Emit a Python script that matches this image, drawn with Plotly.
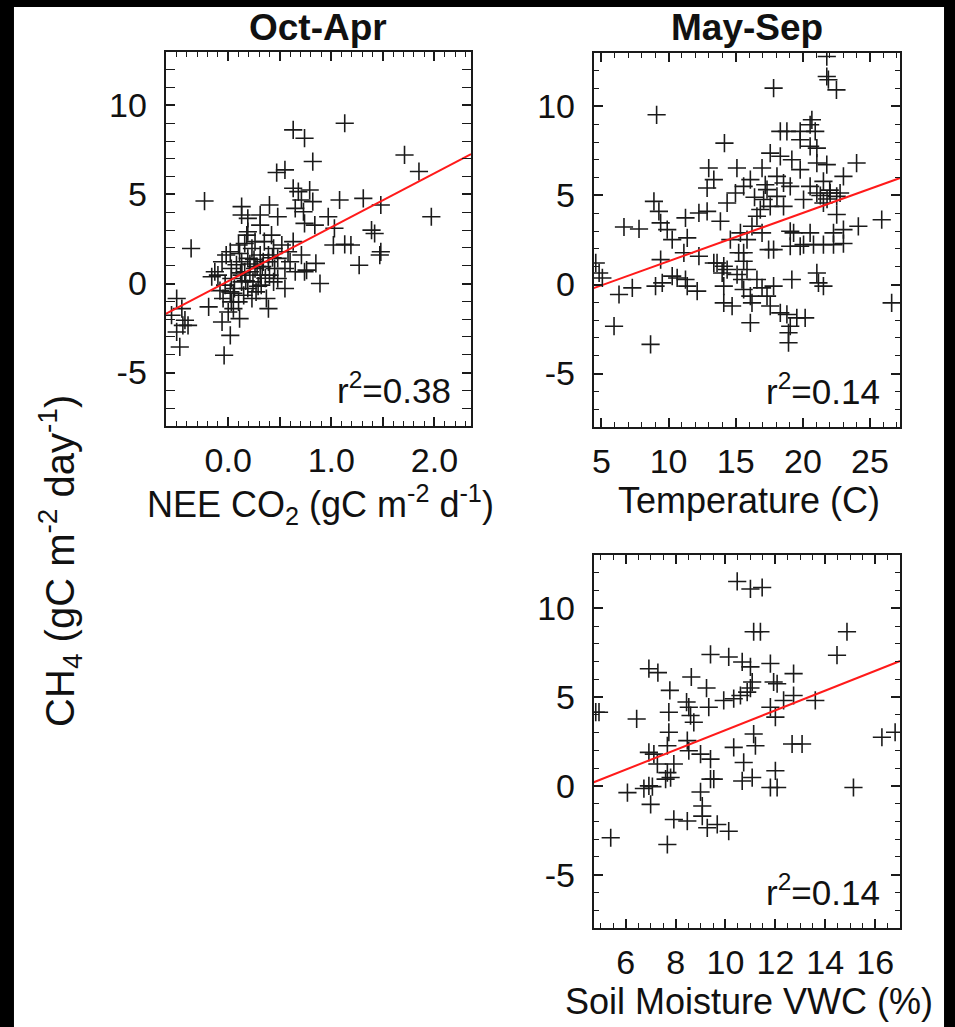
import plotly.graph_objects as go

W, H = 955, 1027

# ---------------- data ----------------
nee_x = [1.13, 0.63, 0.74, 0.82, 1.71, 1.85, 0.47, 0.55, -0.23, 0.63, 0.68, 0.79, 0.82, 0.71,
         0.65, 0.73, 0.74, 0.84, 1.08, 1.31, 1.48, 0.97, 1.03, 1.02, 1.13, 1.19, 1.39, 1.42,
         1.48, 1.47, 1.27, 1.97, 0.85, 0.89, 0.76, 0.71, 0.63, -0.36, -0.50, -0.55, -0.45, -0.42,
         -0.50, -0.47, -0.44, -0.39, -0.19, -0.06, 0.02, -0.04, 0.00, -0.05, 0.05, 0.11, 0.10,
         0.23, 0.37, 0.39, 0.27, 0.19, 0.13, 0.03, -0.13, -0.16, -0.06, -0.02, 0.03, 0.11, 0.13,
         0.16, 0.19, 0.23, 0.26, 0.31, 0.34, 0.39, 0.44, 0.48, 0.55, 0.55, 0.48, 0.40, 0.44,
         0.32, 0.65, 0.74, 0.60, 0.13, 0.13, 0.19, 0.31, 0.31, 0.40, 0.42, 0.48, 0.35, 0.18,
         0.19, 0.26, 0.02, 0.10, 0.16, 0.13, 0.21, 0.06, 0.02, 0.24, -0.10, -0.03, 0.31, 0.52,
         0.58, 0.39, 0.45, 0.03, 0.15, 0.08, 0.21, 0.28, 0.36, 0.12, 0.25, 0.05, 0.33, 0.43,
         -0.08, 0.17, 0.29]
nee_y = [9.00, 8.63, 8.16, 6.85, 7.22, 6.29, 6.23, 6.38, 4.63, 5.35, 5.16, 5.25, 4.60, 4.69,
         4.22, 4.03, 3.38, 3.28, 4.69, 4.78, 4.41, 3.75, 3.10, 2.16, 2.20, 2.16, 3.00, 2.81,
         1.78, 1.60, 1.03, 3.75, 1.13, 0.00, 0.75, 1.60, 2.35, 1.97, -0.84, -1.78, -1.41, -2.06,
         -2.72, -3.56, -2.35, -2.35, -1.31, -2.16, -2.91, -4.03, -1.60, -0.84, -1.41, -1.97, -1.03,
         -0.84, -0.84, -1.41, -0.47, -0.28, 0.09, 0.28, 0.66, 0.38, 1.22, 1.60, 0.84, 1.69, 1.22,
         0.66, 1.41, 1.97, 0.84, 0.47, 1.22, 1.60, 1.97, 1.41, 0.84, -0.28, 0.28, 0.47, 0.09,
         -0.09, 0.66, 0.66, 1.22, 4.32, 3.85, 3.66, 3.28, 3.85, 4.41, 2.72, 3.75, 2.35, 2.72,
         2.91, 2.35, 1.78, 2.16, 2.25, 0.47, 0.66, -0.28, -0.47, 0.09, 0.47, -0.09, 1.60, 2.16,
         1.78, 1.22, 0.84, -1.03, -0.66, 1.05, 1.10, 0.95, 0.30, 0.60, 1.35, -0.55, 0.95, 1.45,
         -0.40, 0.15, -0.15]

temp_x = [21.78, 21.78, 21.90, 22.50, 17.82, 9.11, 14.16, 20.67, 20.54, 18.32, 18.81, 19.80,
          20.92, 19.80, 20.54, 21.04, 17.57, 18.32, 19.18, 19.80, 21.04, 21.78, 24.00, 12.99,
          15.09, 16.96, 18.07, 16.09, 15.59, 14.98, 14.36, 13.37, 12.87, 18.56, 19.06, 17.33,
          18.07, 17.08, 17.57, 18.56, 16.83, 16.58, 20.05, 20.54, 21.53, 22.03, 22.52, 23.02,
          22.77, 21.04, 21.53, 8.91, 9.28, 9.41, 9.90, 10.27, 11.26, 11.39, 12.26, 12.87, 13.86,
          6.68, 7.80, 9.41, 11.14, 12.26, 13.37, 14.11, 14.60, 15.35, 15.59, 15.84, 16.21, 16.96,
          17.45, 17.82, 19.06, 19.31, 19.06, 19.80, 20.05, 20.79, 21.53, 22.28, 23.02, 20.54,
          22.28, 23.02, 22.52, 24.13, 25.87, 26.61, 4.58, 4.83, 5.07, 6.31, 7.30, 5.94, 8.66,
          9.03, 9.53, 10.27, 10.64, 11.26, 11.39, 12.13, 13.61, 13.99, 14.36, 14.11, 14.11, 14.73,
          15.10, 15.47, 15.59, 16.09, 16.21, 16.09, 16.58, 16.96, 17.33, 17.82, 17.57, 18.32,
          18.81, 19.06, 18.93, 18.93, 19.55, 20.17, 19.18, 21.04, 21.16, 21.53, 15.59, 15.84,
          15.22, 21.30, 22.00, 21.80, 16.40, 17.20]
temp_y = [12.80, 11.68, 11.50, 10.93, 11.03, 9.53, 7.94, 9.25, 8.97, 8.60, 8.60, 8.60,
          8.60, 8.13, 7.76, 7.66, 7.38, 7.20, 7.01, 6.45, 6.82, 6.73, 6.82, 6.54,
          6.54, 6.54, 6.07, 5.89, 5.51, 5.14, 4.58, 5.89, 5.42, 5.70, 5.51, 5.33,
          4.95, 4.77, 4.39, 4.39, 4.21, 3.83, 4.77, 5.51, 5.79, 5.14, 4.95, 6.07,
          5.14, 5.14, 4.58, 4.67, 4.11, 3.46, 3.08, 2.52, 3.74, 2.62, 4.02, 4.11, 3.55,
          3.23, 3.12, 1.40, 1.78, 1.59, 1.21, 1.03, 2.52, 2.90, 1.78, 2.52, 3.27, 2.90,
          1.96, 1.96, 2.99, 2.90, 2.15, 2.15, 2.24, 2.24, 2.24, 2.24, 2.30, 2.90,
          2.90, 3.08, 3.93, 3.27, 3.64, -1.03, 1.21, 0.65, 0.37, -0.56, -0.19, -2.34, -3.36,
          -0.09, 0.09, 0.47, 0.37, 0.28, -0.09, -0.37, 1.21, 0.65, 0.84, -0.09, -1.03, -1.21,
          0.56, 0.28, -0.28, -0.65, -1.03, -2.15, 0.28, -0.19, -0.65, -0.09, -1.21, -1.59,
          -1.68, -2.34, -2.71, -3.27, -1.87, -1.87, 0.28, 0.65, 0.09, -0.09, 1.31, 0.84,
          1.78, 5.00, 5.30, 4.80, 4.90, 5.60]

vwc_x = [10.47, 11.00, 11.47, 11.13, 11.40, 14.87, 14.47, 9.40, 10.13, 10.67, 11.00, 11.80,
         6.93, 7.29, 8.63, 12.73, 11.07, 11.00, 11.93, 12.07, 7.77, 9.24, 8.44, 8.53, 8.60,
         8.73, 9.93, 10.33, 10.60, 10.87, 12.33, 12.73, 13.60, 11.80, 12.00, 9.33, 7.73, 4.93,
         6.44, 7.73, 7.67, 8.47, 8.53, 9.00, 9.40, 6.93, 7.13, 7.27, 7.93, 7.67, 7.80, 7.60,
         6.93, 6.73, 7.07, 7.00, 6.07, 5.40, 7.67, 9.00, 9.07, 9.07, 9.27, 7.93, 8.47, 9.67,
         10.13, 9.40, 9.53, 10.33, 10.73, 11.13, 11.20, 10.67, 11.07, 11.80, 12.07, 12.00,
         12.67, 13.07, 15.13, 16.27, 16.80, 4.80]
vwc_y = [11.51, 11.09, 11.17, 8.68, 8.68, 8.68, 7.36, 7.40, 7.26, 6.98, 6.70, 6.89,
         6.60, 6.38, 6.13, 6.32, 5.85, 5.51, 5.85, 5.75, 5.38, 5.51, 4.72, 4.43, 3.96,
         3.58, 4.81, 4.91, 5.09, 5.28, 4.81, 5.09, 4.81, 4.43, 3.87, 4.43, 4.15, 4.15,
         3.77, 3.02, 2.26, 2.55, 1.98, 1.79, 1.51, 1.89, 1.79, 1.23, 1.23, 0.75, 0.47, 0.38,
         0.00, -0.15, -0.04, -1.04, -0.38, -2.92, -3.30, -0.34, -1.13, -1.70, -2.36, -1.89, -1.98, -2.17,
         -2.55, 0.38, 0.38, 2.17, 1.32, 2.92, 2.26, 0.28, 0.47, -0.09, -0.09, 0.85,
         2.36, 2.36, -0.09, 2.74, 3.02, 4.15]

# linear fits (slope, intercept) and r^2 as printed
fit_nee = (3.03, 0.13)
fit_temp = (0.271, -1.40)
fit_vwc = (0.556, -2.42)
r2_labels = ["r<sup>2</sup>=0.38", "r<sup>2</sup>=0.14", "r<sup>2</sup>=0.14"]

panel_titles = ["Oct-Apr", "May-Sep"]
x_titles = ["NEE CO<sub>2</sub> (gC m<sup>-2</sup> d<sup>-1</sup>)",
            "Temperature (C)",
            "Soil Moisture VWC (%)"]
y_title = "CH<sub>4</sub> (gC m<sup>-2</sup> day<sup>-1</sup>)"

nee_ticks = [0, 1, 2]
nee_ticktext = ["0.0", "1.0", "2.0"]
nee_half_ticks = [0.5, 1.5]
temp_ticks = [5, 10, 15, 20, 25]
vwc_ticks = [6, 8, 10, 12, 14, 16]
y_ticks = [-5, 0, 5, 10]
y_ticktext = ["-5", "0", "5", "10"]

# ---------------- layout helpers ----------------
def px(x):
    return x / W

def py(y):
    return 1 - y / H

FONT = "Liberation Sans, Arial, Helvetica, sans-serif"
INK = "#1a1a1a"

panels = {
    # name: (left, right, top, bottom) in pixels
    "1": (164, 470, 52, 426),
    "2": (593, 900, 53, 427),
    "3": (593, 900, 555, 928),
}
xranges = {"1": [-0.607, 2.355], "2": [4.43, 27.24], "3": [4.72, 17.0]}
title_offset = {"1": 51, "2": 51, "3": 51}

fig = go.Figure()

series = [("1", nee_x, nee_y, fit_nee), ("2", temp_x, temp_y, fit_temp), ("3", vwc_x, vwc_y, fit_vwc)]
for key, xs, ys, (m, b) in series:
    xa = "x" if key == "1" else "x" + key
    ya = "y" if key == "1" else "y" + key
    fig.add_trace(go.Scatter(
        x=xs, y=ys, mode="markers", xaxis=xa, yaxis=ya, showlegend=False,
        marker=dict(symbol="cross-thin", size=13, color=INK,
                    line=dict(width=1.6, color=INK)),
        hoverinfo="x+y"))
    x0, x1 = xranges[key]
    fig.add_trace(go.Scatter(
        x=[x0, x1], y=[m * x0 + b, m * x1 + b], mode="lines", xaxis=xa, yaxis=ya,
        showlegend=False, line=dict(color="#ff1a1a", width=2), hoverinfo="skip"))

# invisible trace for the overlay axis carrying the unlabeled half-unit major ticks
fig.add_trace(go.Scatter(x=[nee_half_ticks[0]], y=[0], xaxis="x4", yaxis="y", mode="markers",
                         marker=dict(opacity=0), showlegend=False, hoverinfo="skip"))

def axis_common():
    return dict(showline=True, linecolor=INK, linewidth=2, mirror="allticks",
                ticks="inside", ticklen=9, tickwidth=1.5, tickcolor=INK,
                showgrid=False, zeroline=False, fixedrange=True,
                tickfont=dict(family=FONT, size=34, color="#111"))

def minor(dt):
    return dict(dtick=dt, tick0=0, ticks="inside", ticklen=5, tickwidth=1.2, tickcolor=INK)

layout_axes = {}
xtick_cfg = {
    "1": dict(tickmode="array", tickvals=nee_ticks, ticktext=nee_ticktext, minor=minor(0.1)),
    "2": dict(tickmode="array", tickvals=temp_ticks, ticktext=[str(v) for v in temp_ticks], minor=minor(1)),
    "3": dict(tickmode="array", tickvals=vwc_ticks, ticktext=[str(v) for v in vwc_ticks], minor=minor(0.5)),
}
for key, (l, r, t, bt) in panels.items():
    xname = "xaxis" if key == "1" else "xaxis" + key
    yname = "yaxis" if key == "1" else "yaxis" + key
    xa = axis_common()
    xa.update(domain=[px(l), px(r)], range=xranges[key],
              anchor="y" if key == "1" else "y" + key, ticklabelstandoff=3)
    xa.update(xtick_cfg[key])
    ya = axis_common()
    ya.update(domain=[py(bt), py(t)], range=[-8, 13],
              anchor="x" if key == "1" else "x" + key,
              tickmode="array", tickvals=y_ticks, ticktext=y_ticktext, ticklabelstandoff=10,
              minor=minor(1))
    layout_axes[xname] = xa
    layout_axes[yname] = ya

l1, r1, t1, b1 = panels["1"]
layout_axes["xaxis4"] = dict(overlaying="x", anchor="y", domain=[px(l1), px(r1)], range=xranges["1"],
                             showline=False, mirror="allticks", ticks="inside", ticklen=9,
                             tickwidth=1.5, tickcolor=INK, tickmode="array", tickvals=nee_half_ticks,
                             showticklabels=False, showgrid=False, zeroline=False, fixedrange=True)

annotations = []
# panel titles
for key, txt in zip(["1", "2"], panel_titles):
    l, r, t, bt = panels[key]
    annotations.append(dict(text="<b>%s</b>" % txt, x=px((l + r) / 2), y=py(27),
                            xref="paper", yref="paper", xanchor="center", yanchor="middle",
                            showarrow=False, font=dict(family=FONT, size=37, color="#111")))
# x-axis titles
for key, txt in zip(["1", "2", "3"], x_titles):
    l, r, t, bt = panels[key]
    annotations.append(dict(text=txt, x=px((l + r) / 2 + 2), y=py(bt + title_offset[key]),
                            xref="paper", yref="paper", xanchor="center", yanchor="top",
                            showarrow=False, font=dict(family=FONT, size=36, color="#111")))
# r^2 labels
for key, txt in zip(["1", "2", "3"], r2_labels):
    l, r, t, bt = panels[key]
    annotations.append(dict(text=txt, x=px(r - 18), y=py(bt - 14),
                            xref="paper", yref="paper", xanchor="right", yanchor="bottom",
                            showarrow=False, font=dict(family=FONT, size=35, color="#111")))
# y title
annotations.append(dict(text=y_title, x=px(58), y=py(561), xref="paper", yref="paper",
                        xanchor="center", yanchor="middle", textangle=-90, showarrow=False,
                        font=dict(family=FONT, size=40, color="#111")))

fig.update_layout(
    width=W, height=H, margin=dict(l=0, r=0, t=0, b=0),
    paper_bgcolor="black", plot_bgcolor="white",
    shapes=[dict(type="rect", xref="paper", yref="paper", x0=px(12), x1=px(944),
                 y0=0, y1=py(7), fillcolor="white", line=dict(width=0), layer="below")],
    annotations=annotations,
    **layout_axes,
)

fig.write_html("out.html")
